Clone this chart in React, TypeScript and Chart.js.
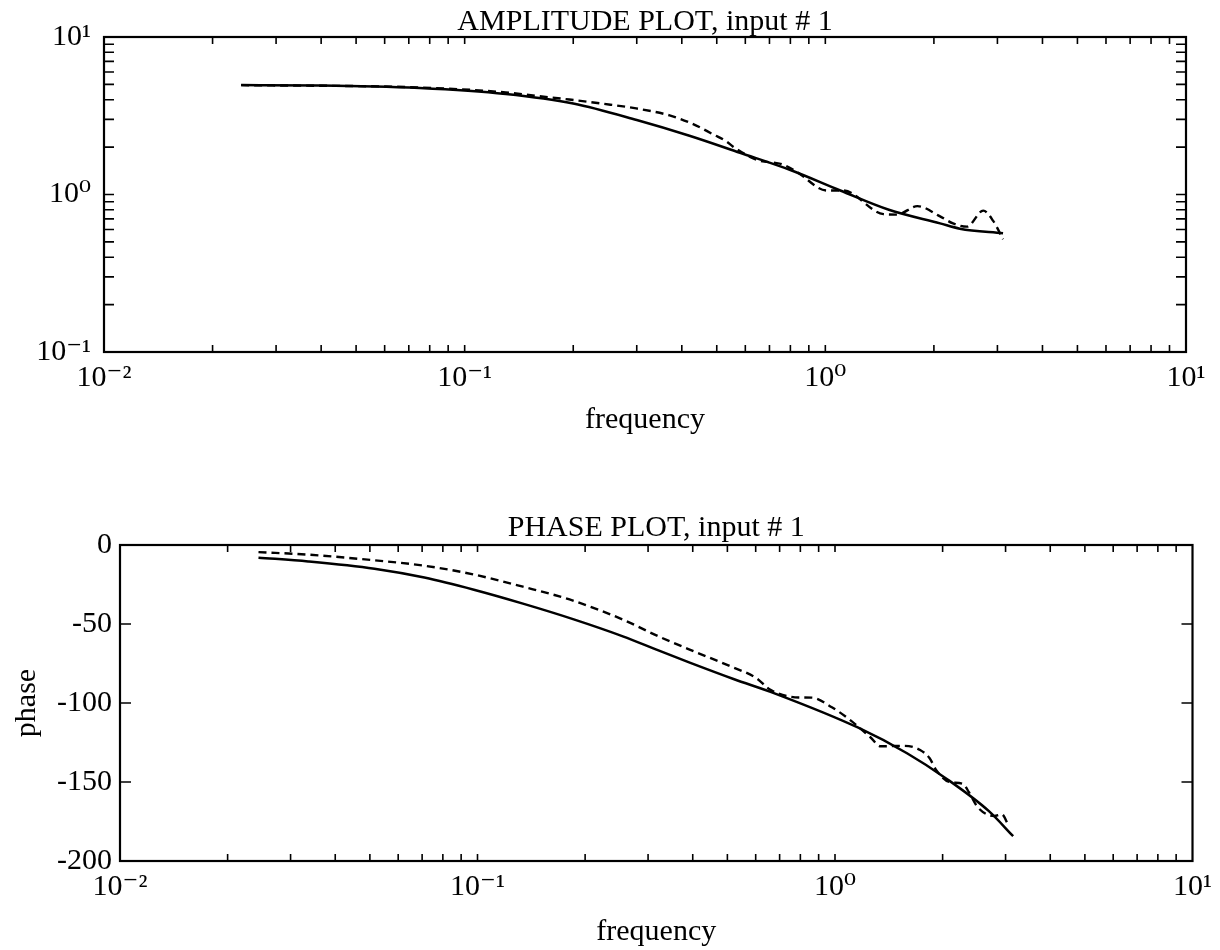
import React, { useEffect, useRef } from 'react';
import { Chart, registerables } from 'chart.js';

Chart.register(...registerables);

// ---- tick definitions ----
const FREQ_DECADES = [-2, -1, 0, 1];
const AMP_DECADES = [-1, 0, 1];
const PHASE_TICKS = [0, -50, -100, -150, -200];

// ---- titles ----
const AMP_TITLE = 'AMPLITUDE PLOT, input # 1';
const PHASE_TITLE = 'PHASE PLOT, input # 1';
const X_TITLE = 'frequency';
const PHASE_Y_TITLE = 'phase';

// ---- amplitude: model (solid) ----
const ampModelFreq = [0.024, 0.04, 0.075, 0.13, 0.2, 0.3, 0.42, 0.58, 0.8, 1.1, 1.5, 2.08, 2.36, 3.11];
const ampModel = [4.95, 4.93, 4.75, 4.35, 3.78, 2.97, 2.36, 1.84, 1.43, 1.06, 0.8, 0.656, 0.607, 0.567];

// ---- amplitude: estimate (dashed) ----
const ampDataFreq = [0.024, 0.075, 0.13, 0.158, 0.195, 0.242, 0.299, 0.37, 0.43, 0.49, 0.531, 0.554, 0.645, 0.762, 0.834, 1.01, 1.12, 1.45, 1.58, 1.8, 2.08, 2.26, 2.47, 2.74, 2.92, 3.11];
const ampData = [4.95, 4.78, 4.45, 4.23, 4.01, 3.77, 3.52, 3.18, 2.8, 2.4, 2.18, 2.02, 1.66, 1.55, 1.39, 1.06, 1.06, 0.75, 0.745, 0.844, 0.726, 0.655, 0.625, 0.79, 0.68, 0.52];

// ---- phase: model (solid) ----
const phaseModelFreq = [0.0244, 0.0336, 0.0515, 0.071, 0.0977, 0.134, 0.185, 0.255, 0.322, 0.394, 0.52, 0.683, 1.158, 1.59, 2.05, 2.69, 3.15];
const phaseModel = [-8.0, -10.4, -15.0, -20.6, -28.3, -37.1, -46.9, -57.8, -66.9, -74.6, -84.8, -94.2, -115.5, -131.8, -147.9, -168.3, -184.3];

// ---- phase: estimate (dashed) ----
const phaseDataFreq = [0.0244, 0.0336, 0.0515, 0.071, 0.0977, 0.134, 0.185, 0.255, 0.322, 0.41, 0.508, 0.602, 0.66, 0.792, 0.862, 0.98, 1.11, 1.26, 1.34, 1.56, 1.73, 1.84, 1.92, 2.09, 2.28, 2.37, 2.51, 2.79, 2.93, 3.05];
const phaseData = [-4.5, -6.1, -9.7, -13.1, -18.7, -26.4, -35.2, -47.2, -58.0, -68, -76.6, -84.2, -91.7, -96.5, -96.6, -102.7, -111.3, -122, -127.4, -127.1, -129.7, -135, -142.5, -150, -151.2, -156.5, -166.1, -171.5, -170.5, -177];

const FONT = "'Liberation Serif', 'DejaVu Serif', 'Times New Roman', serif";
const FONT_SIZE = 30;

const SUP: Record<string, string> = {
  '-': '\u207B', '0': '\u2070', '1': '\u00B9', '2': '\u00B2', '3': '\u00B3',
  '4': '\u2074', '5': '\u2075', '6': '\u2076', '7': '\u2077', '8': '\u2078', '9': '\u2079',
};

function pow10Label(v: number): string {
  const l = Math.log10(v);
  const e = Math.round(l);
  if (Math.abs(l - e) > 1e-6) return '';
  return '10' + String(e).split('').map((c) => SUP[c] || c).join('');
}

function logTicks(decades: number[]) {
  const t: { value: number }[] = [];
  for (let i = 0; i < decades.length - 1; i++) {
    for (let m = 1; m < 10; m++) t.push({ value: m * Math.pow(10, decades[i]) });
  }
  t.push({ value: Math.pow(10, decades[decades.length - 1]) });
  return t;
}

function zip(xs: number[], ys: number[]) {
  return xs.map((x, i) => ({ x, y: ys[i] }));
}

const framePlugin = {
  id: 'frame',
  afterDatasetsDraw(chart: any, _args: any, opts: any) {
    const { ctx, chartArea: a, scales } = chart;
    const xs = scales.x;
    const ys = scales.y;
    ctx.save();
    ctx.strokeStyle = '#000';
    ctx.lineWidth = 2.2;
    ctx.strokeRect(a.left, a.top, a.right - a.left, a.bottom - a.top);
    ctx.lineWidth = 1.6;
    ctx.beginPath();
    xs.ticks.forEach((t: any) => {
      const px = xs.getPixelForValue(t.value);
      if (px <= a.left + 1 || px >= a.right - 1) return;
      ctx.moveTo(px, a.bottom);
      ctx.lineTo(px, a.bottom - opts.xLen);
      ctx.moveTo(px, a.top);
      ctx.lineTo(px, a.top + opts.xLen);
    });
    ys.ticks.forEach((t: any) => {
      const py = ys.getPixelForValue(t.value);
      if (py <= a.top + 1 || py >= a.bottom - 1) return;
      ctx.moveTo(a.left, py);
      ctx.lineTo(a.left + opts.yLen, py);
      ctx.moveTo(a.right, py);
      ctx.lineTo(a.right - opts.yLen, py);
    });
    ctx.stroke();
    ctx.restore();
  },
};

const font = { family: FONT, size: FONT_SIZE };

function datasets(modelX: number[], modelY: number[], dataX: number[], dataY: number[]) {
  return [
    {
      data: zip(modelX, modelY),
      borderColor: '#000',
      borderWidth: 2.5,
      pointRadius: 0,
      fill: false,
      cubicInterpolationMode: 'monotone' as const,
    },
    {
      data: zip(dataX, dataY),
      borderColor: '#000',
      borderWidth: 2.4,
      borderDash: [8, 5],
      pointRadius: 0,
      fill: false,
      cubicInterpolationMode: 'monotone' as const,
    },
  ];
}

function xScale(height: number, titlePadBottom: number) {
  return {
    type: 'logarithmic' as const,
    min: Math.pow(10, FREQ_DECADES[0]),
    max: Math.pow(10, FREQ_DECADES[FREQ_DECADES.length - 1]),
    afterBuildTicks: (s: any) => { s.ticks = logTicks(FREQ_DECADES); },
    afterFit: (s: any) => { s.height = height; },
    grid: { display: false, drawTicks: false, tickLength: 0 },
    border: { display: false },
    ticks: {
      autoSkip: false,
      maxRotation: 0,
      minRotation: 0,
      padding: 8,
      color: '#000',
      font,
      callback: (v: any) => pow10Label(Number(v)),
    },
    title: {
      display: true,
      text: X_TITLE,
      color: '#000',
      font,
      padding: { top: 0, bottom: titlePadBottom },
    },
  };
}

export default function App() {
  const ampRef = useRef<HTMLCanvasElement>(null);
  const phaseRef = useRef<HTMLCanvasElement>(null);

  useEffect(() => {
    const ampChart = new Chart(ampRef.current as HTMLCanvasElement, {
      type: 'line',
      data: { datasets: datasets(ampModelFreq, ampModel, ampDataFreq, ampData) as any },
      plugins: [framePlugin as any],
      options: {
        responsive: false,
        animation: false,
        layout: { padding: { left: 0, right: 34, top: 0, bottom: 0 } },
        plugins: {
          legend: { display: false },
          tooltip: { enabled: false },
          title: {
            display: true,
            text: AMP_TITLE,
            fullSize: false,
            color: '#000',
            font: { family: FONT, size: FONT_SIZE, weight: 'normal', lineHeight: 1 },
            padding: { top: 7, bottom: 0 },
          },
          frame: { xLen: 7, yLen: 10 },
        } as any,
        scales: {
          x: xScale(118, 32) as any,
          y: {
            type: 'logarithmic',
            min: Math.pow(10, AMP_DECADES[0]),
            max: Math.pow(10, AMP_DECADES[AMP_DECADES.length - 1]),
            afterBuildTicks: (s: any) => { s.ticks = logTicks(AMP_DECADES); },
            afterFit: (s: any) => { s.width = 104; },
            grid: { display: false, drawTicks: false, tickLength: 0 },
            border: { display: false },
            ticks: {
              autoSkip: false,
              padding: 13,
              color: '#000',
              font,
              callback: (v: any) => pow10Label(Number(v)),
            },
          } as any,
        },
      },
    });

    const phaseChart = new Chart(phaseRef.current as HTMLCanvasElement, {
      type: 'line',
      data: { datasets: datasets(phaseModelFreq, phaseModel, phaseDataFreq, phaseData) as any },
      plugins: [framePlugin as any],
      options: {
        responsive: false,
        animation: false,
        layout: { padding: { left: 0, right: 20, top: 0, bottom: 0 } },
        plugins: {
          legend: { display: false },
          tooltip: { enabled: false },
          title: {
            display: true,
            text: PHASE_TITLE,
            fullSize: false,
            color: '#000',
            font: { family: FONT, size: FONT_SIZE, weight: 'normal', lineHeight: 1 },
            padding: { top: 43, bottom: 2 },
          },
          frame: { xLen: 7, yLen: 11 },
        } as any,
        scales: {
          x: xScale(89, 0) as any,
          y: {
            type: 'linear',
            min: PHASE_TICKS[PHASE_TICKS.length - 1],
            max: PHASE_TICKS[0],
            afterBuildTicks: (s: any) => { s.ticks = PHASE_TICKS.map((value) => ({ value })); },
            afterFit: (s: any) => { s.width = 120; },
            grid: { display: false, drawTicks: false, tickLength: 0 },
            border: { display: false },
            ticks: {
              autoSkip: false,
              padding: 8,
              color: '#000',
              font,
              callback: (v: any) => String(v),
            },
            title: {
              display: true,
              text: PHASE_Y_TITLE,
              color: '#000',
              font,
              padding: { top: 9, bottom: 0 },
            },
          } as any,
        },
      },
    });

    return () => {
      ampChart.destroy();
      phaseChart.destroy();
    };
  }, []);

  return (
    <div style={{ position: 'absolute', left: 0, top: 0, width: 1220, height: 950, background: '#fff' }}>
      <canvas ref={ampRef} width={1220} height={470} style={{ position: 'absolute', left: 0, top: 0 }} />
      <canvas ref={phaseRef} width={1220} height={480} style={{ position: 'absolute', left: 0, top: 470 }} />
    </div>
  );
}
